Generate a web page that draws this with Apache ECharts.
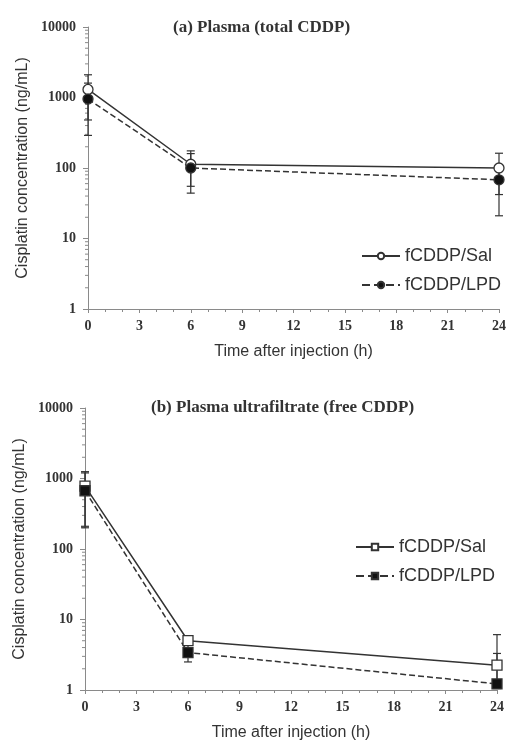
<!DOCTYPE html>
<html>
<head>
<meta charset="utf-8">
<script src="https://cdn.jsdelivr.net/npm/echarts@6/dist/echarts.min.js"></script>
<style>
  html, body { margin: 0; padding: 0; background: #fff; }
  #main { width: 509px; height: 742px; }
</style>
</head>
<body>
<div id="main"></div>
<script>
// time points (h)
var hours = [0, 6, 24];
var xTicks = [0, 3, 6, 9, 12, 15, 18, 21, 24];
var yTicks = [1, 10, 100, 1000, 10000];

// (a) plasma total CDDP
var salA = [1300, 113, 100];
var salAHi = [2100, 175, 162];
var salALo = [480, 55, 42];
var lpdA = [950, 100, 68];
var lpdAHi = [1600, 160, 110];
var lpdALo = [290, 44, 21];

// (b) plasma ultrafiltrate free CDDP
var salB = [780, 5.0, 2.25];
var salBHi = [1250, 5.8, 6.1];
var salBLo = [200, 4.3, 1.4];
var lpdB = [670, 3.4, 1.22];
var lpdBHi = [1200, 4.5, 3.3];
var lpdBLo = [210, 2.5, 1.05];

var labels = { aSal: 'fCDDP/Sal', aLpd: 'fCDDP/LPD', bSal: 'fCDDP/Sal', bLpd: 'fCDDP/LPD' };

var myChart = echarts.init(document.getElementById('main'));

var ink = '#333';
var axisGrey = '#8a8a8a';
var serif = '"Liberation Serif", "DejaVu Serif", serif';
var sans = '"Liberation Sans", Arial, sans-serif';

function pts(ys) {
  return hours.map(function (h, i) { return [h, ys[i]]; });
}
function errs(lo, hi) {
  return hours.map(function (h, i) { return [h, lo[i], hi[i]]; });
}

// log minor ticks 2..9 per decade
var minorVals = [];
for (var k = 0; k < 4; k++) {
  for (var m = 2; m <= 9; m++) minorVals.push([0, m * Math.pow(10, k)]);
}

function errorBar(params, api) {
  var x = api.value(0);
  var lo = api.coord([x, api.value(1)]);
  var hi = api.coord([x, api.value(2)]);
  var w = 4;
  var st = { stroke: ink, lineWidth: 1.2 };
  return {
    type: 'group',
    children: [
      { type: 'line', shape: { x1: lo[0], y1: lo[1], x2: hi[0], y2: hi[1] }, style: st },
      { type: 'line', shape: { x1: lo[0] - w, y1: lo[1], x2: lo[0] + w, y2: lo[1] }, style: st },
      { type: 'line', shape: { x1: hi[0] - w, y1: hi[1], x2: hi[0] + w, y2: hi[1] }, style: st }
    ]
  };
}

function minorTick(params, api) {
  var p = api.coord([api.value(0), api.value(1)]);
  return { type: 'line', shape: { x1: p[0] - 3, y1: p[1], x2: p[0], y2: p[1] }, style: { stroke: axisGrey, lineWidth: 1 } };
}

function xAxisFor(idx) {
  return {
    type: 'value', gridIndex: idx, min: 0, max: 24, interval: 3,
    name: 'Time after injection (h)', nameLocation: 'middle', nameGap: 35,
    nameTextStyle: { fontFamily: sans, fontSize: 16, color: ink },
    axisLine: { lineStyle: { color: axisGrey } },
    axisTick: { show: true, length: 4, lineStyle: { color: axisGrey } },
    minorTick: { show: true, splitNumber: 3, length: 3, lineStyle: { color: axisGrey } },
    splitLine: { show: false },
    axisLabel: { fontFamily: serif, fontWeight: 'bold', fontSize: 14, color: ink, margin: 10 }
  };
}
function yAxisFor(idx) {
  return {
    type: 'log', logBase: 10, gridIndex: idx, min: 1, max: 10000,
    name: 'Cisplatin concentration (ng/mL)', nameLocation: 'middle', nameGap: 48,
    nameTextStyle: { fontFamily: sans, fontSize: 16, color: ink },
    axisLine: { show: true, lineStyle: { color: axisGrey } },
    axisTick: { show: true, length: 5, lineStyle: { color: axisGrey } },
    splitLine: { show: false },
    axisLabel: { fontFamily: serif, fontWeight: 'bold', fontSize: 14, color: ink, margin: 12,
      formatter: function (v) { return String(Math.round(v)); } }
  };
}

function lineSeries(name, idx, data, symbol, dashed) {
  return {
    name: name, type: 'line', xAxisIndex: idx, yAxisIndex: idx, data: pts(data),
    symbol: symbol, symbolSize: 10, z: 5,
    lineStyle: { color: ink, width: 1.5, type: dashed ? 'dashed' : 'solid' },
    itemStyle: { color: dashed ? '#111' : '#fff', borderColor: ink, borderWidth: 1.3 }
  };
}

var option = {
  backgroundColor: '#fff',
  animation: false,
  title: [
    { text: '(a) Plasma (total CDDP)', left: 168, top: 14,
      textStyle: { fontFamily: serif, fontWeight: 'bold', fontSize: 17, color: ink } },
    { text: '(b) Plasma ultrafiltrate (free CDDP)', left: 146, top: 394,
      textStyle: { fontFamily: serif, fontWeight: 'bold', fontSize: 17, color: ink } }
  ],
  legend: [
    { data: ['aSal', 'aLpd'], orient: 'vertical', left: 356, top: 242, itemWidth: 38, itemHeight: 8, itemGap: 11,
      formatter: function (n) { return labels[n]; },
      textStyle: { fontFamily: sans, fontSize: 18, color: ink } },
    { data: ['bSal', 'bLpd'], orient: 'vertical', left: 350, top: 533, itemWidth: 38, itemHeight: 8, itemGap: 11,
      formatter: function (n) { return labels[n]; },
      textStyle: { fontFamily: sans, fontSize: 18, color: ink } }
  ],
  grid: [
    { left: 88, top: 27, width: 412, height: 282 },
    { left: 85, top: 408, width: 412, height: 282 }
  ],
  xAxis: [xAxisFor(0), xAxisFor(1)],
  yAxis: [yAxisFor(0), yAxisFor(1)],
  series: [
    { type: 'custom', xAxisIndex: 0, yAxisIndex: 0, renderItem: minorTick, data: minorVals, silent: true, z: 1 },
    { type: 'custom', xAxisIndex: 1, yAxisIndex: 1, renderItem: minorTick, data: minorVals, silent: true, z: 1 },
    { type: 'custom', xAxisIndex: 0, yAxisIndex: 0, renderItem: errorBar, data: errs(salALo, salAHi), z: 3 },
    { type: 'custom', xAxisIndex: 0, yAxisIndex: 0, renderItem: errorBar, data: errs(lpdALo, lpdAHi), z: 3 },
    { type: 'custom', xAxisIndex: 1, yAxisIndex: 1, renderItem: errorBar, data: errs(salBLo, salBHi), z: 3 },
    { type: 'custom', xAxisIndex: 1, yAxisIndex: 1, renderItem: errorBar, data: errs(lpdBLo, lpdBHi), z: 3 },
    lineSeries('aSal', 0, salA, 'circle', false),
    lineSeries('aLpd', 0, lpdA, 'circle', true),
    lineSeries('bSal', 1, salB, 'rect', false),
    lineSeries('bLpd', 1, lpdB, 'rect', true)
  ]
};

myChart.setOption(option);
</script>
</body>
</html>
